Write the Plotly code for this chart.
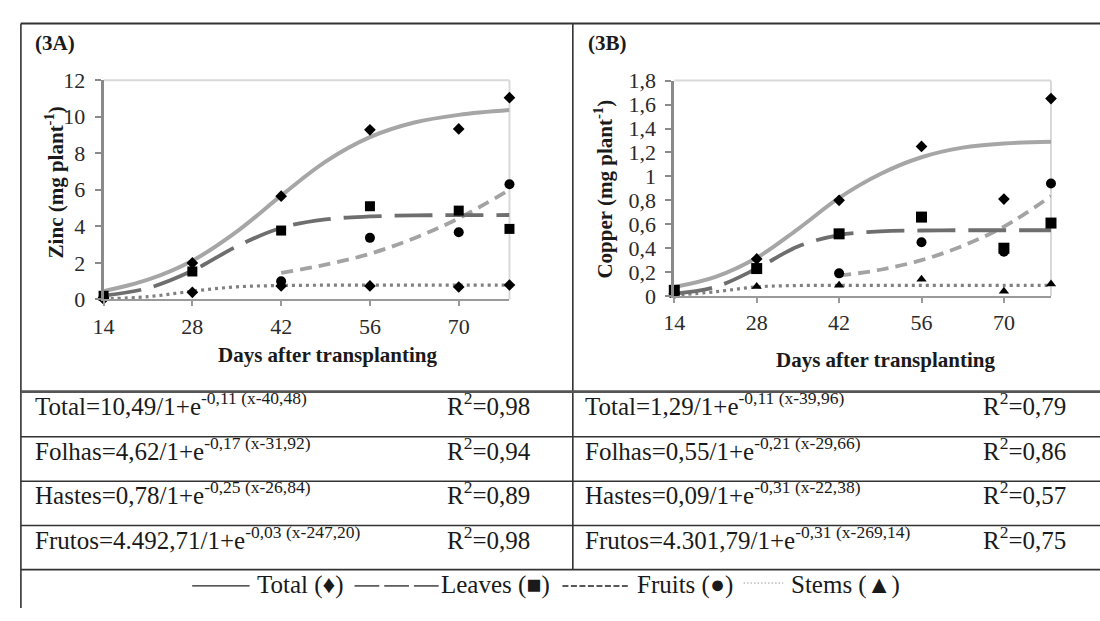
import plotly.graph_objects as go

W, H = 1100, 621

# ---------------- data ----------------
days = [14, 28, 42, 56, 70, 78]
fruit_days = [42, 56, 70, 78]
curve_days = [14, 21, 28, 35, 42, 49, 56, 63, 70, 78]
fruit_curve_days = [42, 49, 56, 63, 70, 78]
xticks = [14, 28, 42, 56, 70]

# Panel 3A - Zinc (mg plant-1)
zn_total = [0.1, 2.0, 5.65, 9.28, 9.33, 11.04]
zn_leaves = [0.2, 1.53, 3.77, 5.1, 4.86, 3.86]
zn_fruits = [1.0, 3.37, 3.68, 6.3]
zn_stems = [0.03, 0.39, 0.74, 0.74, 0.68, 0.79]
zn_total_fit = [0.45, 1.08, 2.12, 3.71, 5.68, 7.54, 8.88, 9.68, 10.10, 10.36]
zn_leaves_fit = [0.21, 0.62, 1.57, 2.90, 3.92, 4.38, 4.54, 4.60, 4.61, 4.62]
zn_stems_fit = [0.03, 0.15, 0.45, 0.69, 0.76, 0.78, 0.78, 0.78, 0.78, 0.78]
zn_fruits_fit = [1.45, 1.9, 2.5, 3.35, 4.44, 6.0]

# Panel 3B - Copper (mg plant-1)
cu_total = [0.02, 0.31, 0.80, 1.25, 0.81, 1.65]
cu_leaves = [0.048, 0.23, 0.52, 0.66, 0.40, 0.61]
cu_fruits = [0.19, 0.45, 0.37, 0.94]
cu_stems = [0.005, 0.08, 0.09, 0.14, 0.04, 0.10]
cu_total_fit = [0.075, 0.16, 0.32, 0.56, 0.82, 1.02, 1.16, 1.24, 1.275, 1.29]
cu_leaves_fit = [0.02, 0.077, 0.23, 0.415, 0.51, 0.54, 0.548, 0.55, 0.55, 0.55]
cu_stems_fit = [0.006, 0.036, 0.077, 0.088, 0.09, 0.09, 0.09, 0.09, 0.09, 0.09]
cu_fruits_fit = [0.17, 0.22, 0.30, 0.42, 0.58, 0.835]

eq_3a = ["Total=10,49/1+e<sup>-0,11 (x-40,48)</sup>",
         "Folhas=4,62/1+e<sup>-0,17 (x-31,92)</sup>",
         "Hastes=0,78/1+e<sup>-0,25 (x-26,84)</sup>",
         "Frutos=4.492,71/1+e<sup>-0,03 (x-247,20)</sup>"]
r2_3a = ["0,98", "0,94", "0,89", "0,98"]
eq_3b = ["Total=1,29/1+e<sup>-0,11 (x-39,96)</sup>",
         "Folhas=0,55/1+e<sup>-0,21 (x-29,66)</sup>",
         "Hastes=0,09/1+e<sup>-0,31 (x-22,38)</sup>",
         "Frutos=4.301,79/1+e<sup>-0,31 (x-269,14)</sup>"]
r2_3b = ["0,79", "0,86", "0,57", "0,75"]

legend_items = ["Total (\u2666)", "Leaves (\u25a0)", "Fruits (\u25cf)", "Stems (\u25b2)"]

# ---------------- helpers ----------------
def px(x):
    return x / W

def py(y):
    return 1 - y / H

SERIF = "Liberation Serif"
TXT = "#1a1a1a"

C_TOTAL = "#a6a6a6"
C_LEAVES = "#6e6e6e"
C_FRUITS = "#a3a3a3"
C_STEMS = "#808080"

fig = go.Figure()

def add_panel(xa, ya, total, leaves, fruits, stems, tfit, lfit, sfit, ffit, stem_symbol, sq):
    kw = dict(xaxis=xa, yaxis=ya, showlegend=False, hoverinfo="skip", cliponaxis=False)
    fig.add_trace(go.Scatter(x=curve_days, y=sfit, mode="lines", line_shape="spline",
                             line=dict(color=C_STEMS, width=3.2, dash="3px,4px"), **kw))
    fig.add_trace(go.Scatter(x=fruit_curve_days, y=ffit, mode="lines", line_shape="spline",
                             line=dict(color=C_FRUITS, width=3.8, dash="12px,7px"), **kw))
    fig.add_trace(go.Scatter(x=curve_days, y=lfit, mode="lines", line_shape="spline",
                             line=dict(color=C_LEAVES, width=3.8, dash="38px,13px"), **kw))
    fig.add_trace(go.Scatter(x=curve_days, y=tfit, mode="lines", line_shape="spline",
                             line=dict(color=C_TOTAL, width=4), **kw))
    fig.add_trace(go.Scatter(x=days, y=stems, mode="markers",
                             marker=dict(symbol=stem_symbol, size=9, color="black"), **kw))
    fig.add_trace(go.Scatter(x=fruit_days, y=fruits, mode="markers",
                             marker=dict(symbol="circle", size=10, color="black"), **kw))
    fig.add_trace(go.Scatter(x=days, y=leaves, mode="markers",
                             marker=dict(symbol="square", size=sq, color="black"), **kw))
    fig.add_trace(go.Scatter(x=days, y=total, mode="markers",
                             marker=dict(symbol="diamond", size=9, color="black"), **kw))

add_panel("x", "y", zn_total, zn_leaves, zn_fruits, zn_stems,
          zn_total_fit, zn_leaves_fit, zn_stems_fit, zn_fruits_fit, "diamond", 10)
add_panel("x2", "y2", cu_total, cu_leaves, cu_fruits, cu_stems,
          cu_total_fit, cu_leaves_fit, cu_stems_fit, cu_fruits_fit, "triangle-up", 11)

tickfont = dict(family=SERIF, size=22, color="#2a2a2a")
xcommon = dict(range=[14, 78], tickmode="array", tickvals=xticks, showgrid=False, zeroline=False,
               showline=True, linecolor="#9a9a9a", linewidth=2, ticks="outside", ticklen=5,
               tickcolor="#9a9a9a", tickwidth=1.5, tickfont=tickfont, ticklabelstandoff=1)
ycommon = dict(showgrid=False, zeroline=False, showline=True, linecolor="#8a8a8a", linewidth=3,
               ticks="outside", ticklen=6, tickcolor="#8a8a8a", tickwidth=1.5,
               tickfont=tickfont, ticklabelstandoff=5)

fig.update_layout(
    width=W, height=H,
    margin=dict(l=0, r=0, t=0, b=0),
    paper_bgcolor="white", plot_bgcolor="white",
    xaxis=dict(domain=[px(93.5), px(503.5)], anchor="y", **xcommon),
    yaxis=dict(domain=[py(299.5), py(71)], anchor="x", range=[0, 12], tickvals=[0, 2, 4, 6, 8, 10, 12],
               ticktext=["0", "2", "4", "6", "8", "10", "12"], **ycommon),
    xaxis2=dict(domain=[px(670), px(1050.5)], anchor="y2", **xcommon),
    yaxis2=dict(domain=[py(296), py(71.5)], anchor="x2", range=[0, 1.8],
                tickvals=[0, 0.2, 0.4, 0.6, 0.8, 1.0, 1.2, 1.4, 1.6, 1.8],
                ticktext=["0", "0,2", "0,4", "0,6", "0,8", "1", "1,2", "1,4", "1,6", "1,8"], **ycommon),
)

shapes = []
# light plot-area borders (top / right)
for xr, yr in (("x domain", "y domain"), ("x2 domain", "y2 domain")):
    shapes.append(dict(type="line", xref=xr, yref=yr, x0=0, x1=1, y0=1, y1=1,
                       line=dict(color="#d9d9d9", width=2), layer="below"))
    shapes.append(dict(type="line", xref=xr, yref=yr, x0=1, x1=1, y0=0, y1=1,
                       line=dict(color="#d9d9d9", width=2), layer="below"))

# frame / table lines
def pline(x0, y0, x1, y1, color="#333333", width=1.6):
    shapes.append(dict(type="line", xref="paper", yref="paper", x0=px(x0), x1=px(x1),
                       y0=py(y0), y1=py(y1), line=dict(color=color, width=width)))

pline(10, 12, 1100, 12, width=2)
pline(10, 12, 10, 621, width=1.6)
pline(567.5, 12, 567.5, 581, width=1.6)
pline(10, 395.5, 1100, 395.5, color="#555555", width=2.6)
for yy in (442.5, 489, 535, 581):
    pline(10, yy, 1100, yy, width=1.6)

# legend line samples
LY = 598
pline(183, LY, 241, LY, color="#222222", width=1.3)
for a, b in ((347, 372), (377, 402), (407, 432)):
    pline(a, LY, b, LY, color="#222222", width=1.3)
shapes.append(dict(type="line", xref="paper", yref="paper", x0=px(557), x1=px(623), y0=py(LY), y1=py(LY),
                   line=dict(color="#222222", width=1.6, dash="6px,2.5px")))
shapes.append(dict(type="line", xref="paper", yref="paper", x0=px(740), x1=px(780), y0=py(LY - 3), y1=py(LY - 3),
                   line=dict(color="#9a9a9a", width=1, dash="1.5px,2px")))

fig.update_layout(shapes=shapes)

ann = []

def text(x, y, s, size=25, bold=False, xanchor="left", yanchor="bottom", angle=0):
    if bold:
        s = "<b>" + s + "</b>"
    ann.append(dict(x=px(x), y=py(y), xref="paper", yref="paper", text=s, showarrow=False,
                    xanchor=xanchor, yanchor=yanchor, textangle=angle,
                    font=dict(family=SERIF, size=size, color=TXT)))

# panel labels
text(22, 32, "(3A)", size=21, bold=True, yanchor="middle")
text(581, 32, "(3B)", size=21, bold=True, yanchor="middle")

# axis titles
text(44, 178, "Zinc (mg plant<sup>-1</sup>)", size=21, bold=True, xanchor="center", yanchor="middle", angle=-90)
text(599, 185, "Copper (mg plant<sup>-1</sup>)", size=21, bold=True, xanchor="center", yanchor="middle", angle=-90)
text(320, 357, "Days after transplanting", size=21, bold=True, xanchor="center", yanchor="middle")
text(883, 363, "Days after transplanting", size=21, bold=True, xanchor="center", yanchor="middle")

# table rows
baselines = [420, 467, 513, 560]
for i, b in enumerate(baselines):
    text(22, b + 7, eq_3a[i])
    text(438, b + 7, "R<sup>2</sup>=" + r2_3a[i])
    text(578, b + 7, eq_3b[i])
    text(980, b + 7, "R<sup>2</sup>=" + r2_3b[i])

# legend texts
for xx, s in zip((246, 432, 630, 786), legend_items):
    text(xx, 614, s)

fig.update_layout(annotations=ann)

fig.write_html("out.html", config={"displayModeBar": False},
               post_script="document.body.style.margin='0';document.body.style.overflow='hidden';")
